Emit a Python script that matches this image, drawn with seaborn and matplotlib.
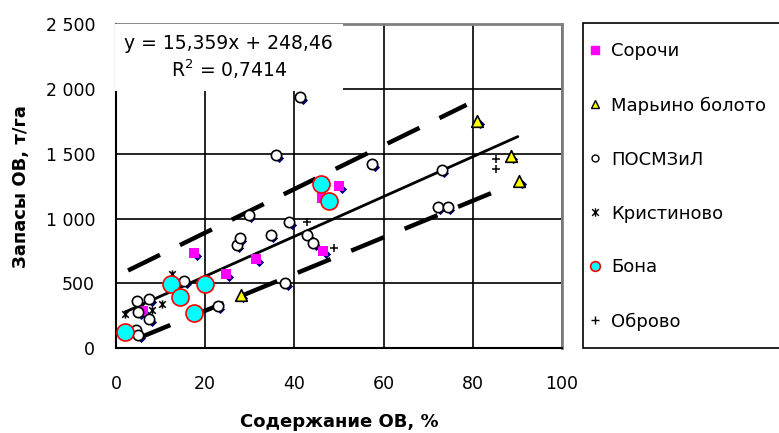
import numpy as np
import pandas as pd
import matplotlib
matplotlib.use("Agg")
import matplotlib.pyplot as plt
import matplotlib.transforms as mtransforms
from matplotlib.path import Path
from matplotlib.lines import Line2D
from matplotlib.patches import Rectangle
from matplotlib.ticker import FuncFormatter
import seaborn as sns

sns.set_style("white")
plt.rcParams["font.family"] = ["DejaVu Sans"]
plt.rcParams["text.color"] = "black"
plt.rcParams["axes.labelcolor"] = "black"
plt.rcParams["xtick.color"] = "black"
plt.rcParams["ytick.color"] = "black"

# --- data ---
sorochi_x = [6.1, 17.6, 24.7, 31.5, 46.1, 46.5, 50.1]
sorochi_y = [290, 735, 571, 692, 1158, 748, 1251]

marino_x = [28.0, 81.0, 88.5, 90.4]
marino_y = [410, 1751, 1482, 1289]

posm_x = [4.4, 5.0, 5.0, 4.8, 7.5, 7.5, 15.3, 22.8, 27.1, 27.8, 29.8, 34.7, 35.9,
          37.9, 38.9, 41.3, 42.9, 44.2, 57.5, 72.1, 73.0, 74.4]
posm_y = [141, 102, 282, 366, 378, 225, 515, 325, 800, 854, 1025, 877, 1490,
          505, 974, 1941, 877, 812, 1423, 1089, 1372, 1089]

krist_x = [2.1, 8.1, 10.3, 12.5]
krist_y = [266, 292, 343, 574]

bona_x = [2.0, 12.3, 14.3, 17.6, 20.0, 45.9, 47.8]
bona_y = [125, 497, 392, 274, 492, 1264, 1133]

obrovo_x = [42.8, 48.9, 85.2, 85.2]
obrovo_y = [974, 774, 1456, 1385]

fit_x = [2.0, 90.1]
fit_y = [279, 1632]
upper_x = [2.7, 78.6]
upper_y = [600, 1877]
lower_x = [4.8, 87.6]
lower_y = [75, 1245]

x_ticks = [0, 20, 40, 60, 80, 100]
y_ticks = [0, 500, 1000, 1500, 2000, 2500]

sites = ["Сорочи", "Марьино болото", "ПОСМЗиЛ", "Кристиново", "Бона", "Оброво"]
df = pd.concat([
    pd.DataFrame({"x": sorochi_x, "y": sorochi_y, "site": sites[0]}),
    pd.DataFrame({"x": marino_x, "y": marino_y, "site": sites[1]}),
    pd.DataFrame({"x": posm_x, "y": posm_y, "site": sites[2]}),
    pd.DataFrame({"x": krist_x, "y": krist_y, "site": sites[3]}),
    pd.DataFrame({"x": bona_x, "y": bona_y, "site": sites[4]}),
    pd.DataFrame({"x": obrovo_x, "y": obrovo_y, "site": sites[5]}),
], ignore_index=True)

# asterisk-like marker (x with a vertical bar)
star = Path([(0, -1), (0, 1), (-0.8, -0.8), (0.8, 0.8), (-0.8, 0.8), (0.8, -0.8)],
            [Path.MOVETO, Path.LINETO] * 3)

styles = {
    "Сорочи": dict(marker="s", s=45, color="#ff00ff", edgecolor="#ff00ff", linewidth=0),
    "Марьино болото": dict(marker="^", s=70, color="#ffff00", edgecolor="black", linewidth=1.2),
    "ПОСМЗиЛ": dict(marker="o", s=55, color="white", edgecolor="black", linewidth=1.2),
    "Кристиново": dict(marker=star, s=35, color="black", edgecolor="black", linewidth=1.1),
    "Бона": dict(marker="o", s=150, color="#00ffff", edgecolor="#ff0000", linewidth=1.2),
    "Оброво": dict(marker="+", s=38, color="black", linewidth=1.1),
}

fig = plt.figure(figsize=(7.79, 4.33), dpi=100)
ax = fig.add_axes([116 / 779, 1 - 348.3 / 433, 446 / 779, 324.3 / 433])

# navy diamonds of the combined series, slightly shifted
shift = ax.transData + mtransforms.ScaledTranslation(2.5 / 100, -3 / 100, fig.dpi_scale_trans)
filled = df[~df["site"].isin(["Кристиново", "Оброво"])]
sns.scatterplot(data=filled, x="x", y="y", marker="D", s=22, color="#000080",
                edgecolor="#000080", linewidth=0, ax=ax, transform=shift, zorder=2, legend=False)

# trend line and dashed bands
sns.lineplot(x=fit_x, y=fit_y, color="black", linewidth=2.0, ax=ax, zorder=3)
ax.plot(upper_x, upper_y, color="black", linewidth=3.2, dashes=(8, 5),
        dash_capstyle="butt", zorder=3)
ax.plot(lower_x, lower_y, color="black", linewidth=3.2, dashes=(8, 5),
        dash_capstyle="butt", zorder=3)

for site in sites:
    sub = df[df["site"] == site]
    sns.scatterplot(data=sub, x="x", y="y", ax=ax, zorder=4, legend=False, **styles[site])

ax.set_xlim(0, 100)
ax.set_ylim(0, 2500)
ax.set_xticks(x_ticks)
ax.set_yticks(y_ticks)
ax.yaxis.set_major_formatter(FuncFormatter(lambda v, p: f"{int(v):,}".replace(",", " ")))
ax.tick_params(direction="out", length=7, width=1.2, colors="black", labelsize=12.5)
ax.tick_params(axis="x", pad=12)
ax.tick_params(axis="y", pad=8)

ax.set_axisbelow(True)
ax.grid(True, color="black", linewidth=1.2)
for side in ["left", "bottom"]:
    ax.spines[side].set_color("black")
    ax.spines[side].set_linewidth(1.5)
for side in ["top", "right"]:
    ax.spines[side].set_color("#808080")
    ax.spines[side].set_linewidth(2)

ax.set_xlabel("Содержание ОВ, %", fontsize=13, fontweight="bold")
ax.set_ylabel("Запасы ОВ, т/га", fontsize=13, fontweight="bold")
ax.xaxis.set_label_coords(0.5, -0.227)
ax.yaxis.set_label_coords(-0.214, 0.5)
ax.xaxis.label.set_va("center")
ax.yaxis.label.set_va("center")

ax.text(25.3, 2240, "y = 15,359x + 248,46\nR$^2$ = 0,7414", ha="center", va="center",
        multialignment="center", fontsize=13.5, linespacing=1.25, zorder=5,
        bbox=dict(facecolor="white", edgecolor="none", pad=7))

# legend box
fig.patches.append(Rectangle((583 / 779, 1 - 348 / 433), 0.3, (348 - 23.3) / 433,
                             transform=fig.transFigure, facecolor="white",
                             edgecolor="black", linewidth=1.2, zorder=0))

handles = [
    Line2D([], [], linestyle="none", marker="s", markersize=6, markerfacecolor="#ff00ff",
           markeredgecolor="#ff00ff"),
    Line2D([], [], linestyle="none", marker="^", markersize=6, markerfacecolor="#ffff00",
           markeredgecolor="black"),
    Line2D([], [], linestyle="none", marker="o", markersize=5, markerfacecolor="white",
           markeredgecolor="black"),
    Line2D([], [], linestyle="none", marker=star, markersize=6, color="black", markeredgewidth=1),
    Line2D([], [], linestyle="none", marker="o", markersize=7, markerfacecolor="#00ffff",
           markeredgecolor="#ff0000", markeredgewidth=1.2),
    Line2D([], [], linestyle="none", marker="+", markersize=6, color="black"),
]
leg = fig.legend(handles, sites, loc="upper left", bbox_to_anchor=(588 / 779, 1 - 42.5 / 433),
                 borderaxespad=0, frameon=False, fontsize=13, borderpad=0,
                 labelspacing=1.99, handlelength=0.8, handletextpad=0.48)

plt.savefig("out.png", dpi=100)
plt.close()
